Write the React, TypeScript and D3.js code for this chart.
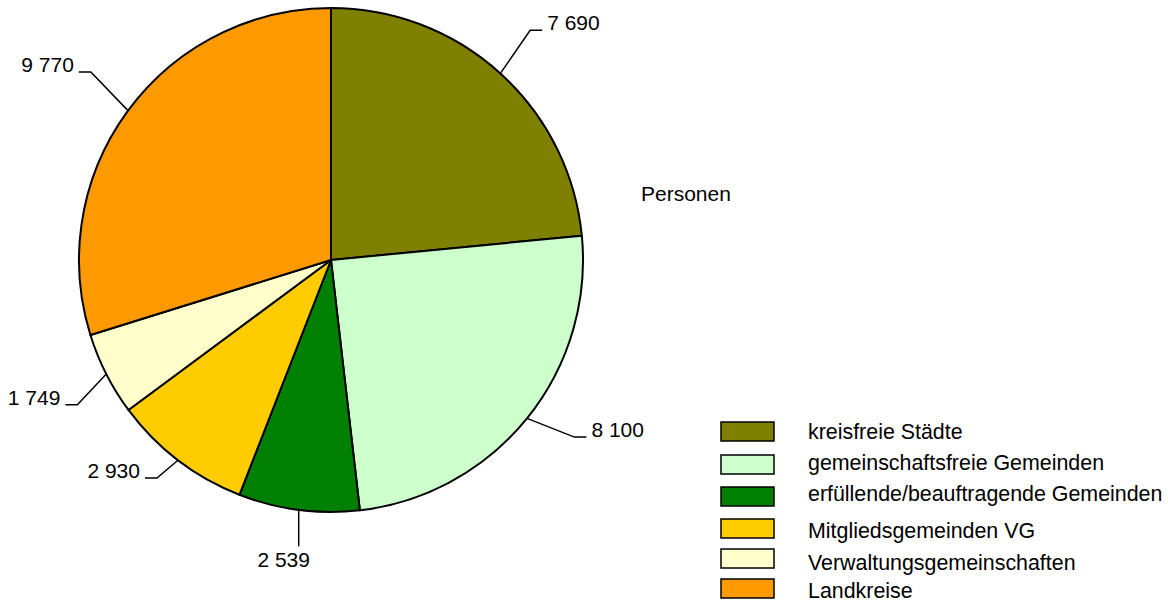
import React, { useEffect, useRef } from 'react'
import * as d3 from 'd3'

const categories = [
  'kreisfreie Städte',
  'gemeinschaftsfreie Gemeinden',
  'erfüllende/beauftragende Gemeinden',
  'Mitgliedsgemeinden VG',
  'Verwaltungsgemeinschaften',
  'Landkreise',
]
const values = [7690, 8100, 2539, 2930, 1749, 9770]
const valueLabels = ['7 690', '8 100', '2 539', '2 930', '1 749', '9 770']
const colors = ['#808000', '#CCFFCC', '#008000', '#FFCC00', '#FFFFCC', '#FF9900']
const unitLabel = 'Personen'

// leader line layout: angle nudge (deg) and elbow radius per label
const labelNudge = [-1.3, -2.9, -1.2, 1.2, -2.8, 1.7]
const labelRadius = [304, 301, 288, 279, 292, 305]

// legend row layout (swatch tops / text baselines)
const legendTops = [422, 455, 487, 519, 549, 579]
const legendBaselines = [439, 470, 501, 538, 570, 598]

const App = () => {
  const svgRef = useRef<SVGSVGElement>(null)

  useEffect(() => {
    const width = 1168
    const height = 603
    const cx = 331
    const cy = 260
    const radius = 252
    const font = 'Liberation Sans, Arial, sans-serif'

    const svg = d3.select(svgRef.current)
    svg.selectAll('*').remove()
    svg.attr('width', width).attr('height', height)

    const data = values.map((v, i) => ({ v, i }))
    const pie = d3.pie<{ v: number; i: number }>().value(d => d.v).sort(null)
    const arcs = pie(data)
    const arc = d3.arc<d3.PieArcDatum<{ v: number; i: number }>>()
      .innerRadius(0)
      .outerRadius(radius)

    const g = svg.append('g').attr('transform', `translate(${cx},${cy})`)

    g.selectAll('path')
      .data(arcs)
      .enter()
      .append('path')
      .attr('d', arc)
      .attr('fill', d => colors[d.data.i])
      .attr('stroke', '#000')
      .attr('stroke-width', 2)
      .attr('stroke-linejoin', 'round')

    // leader lines + labels
    arcs.forEach(d => {
      const i = d.data.i
      const mid = (d.startAngle + d.endAngle) / 2
      const sx = Math.sin(mid) * radius
      const sy = -Math.cos(mid) * radius
      const a = mid + (labelNudge[i] * Math.PI) / 180
      const ex = Math.sin(a) * labelRadius[i]
      const ey = -Math.cos(a) * labelRadius[i]
      const bottom = Math.abs(Math.sin(mid)) < 0.2 && Math.cos(mid) < 0
      if (bottom) {
        g.append('path')
          .attr('d', `M${sx},${sy}L${sx},${ey}`)
          .attr('stroke', '#000').attr('stroke-width', 1.5).attr('fill', 'none')
        g.append('text')
          .attr('x', sx - 15)
          .attr('y', ey + 21)
          .attr('text-anchor', 'middle')
          .attr('font-family', font)
          .attr('font-size', 21)
          .attr('fill', '#000')
          .text(valueLabels[i])
        return
      }
      const right = Math.sin(mid) > 0
      const hx = ex + (right ? 12 : -12)
      g.append('path')
        .attr('d', `M${sx},${sy}L${ex},${ey}L${hx},${ey}`)
        .attr('stroke', '#000').attr('stroke-width', 1.5).attr('fill', 'none')
      g.append('text')
        .attr('x', hx + (right ? 5 : -5))
        .attr('y', ey)
        .attr('text-anchor', right ? 'start' : 'end')
        .attr('font-family', font)
        .attr('font-size', 21)
        .attr('fill', '#000')
        .text(valueLabels[i])
    })

    svg.append('text')
      .attr('x', 641)
      .attr('y', 201)
      .attr('font-family', font)
      .attr('font-size', 21)
      .attr('fill', '#000')
      .text(unitLabel)

    const legend = svg.append('g')
    categories.forEach((c, i) => {
      legend.append('rect')
        .attr('x', 721)
        .attr('y', legendTops[i])
        .attr('width', 53)
        .attr('height', 19)
        .attr('fill', colors[i])
        .attr('stroke', '#000')
        .attr('stroke-width', 1.5)
      legend.append('text')
        .attr('x', 808)
        .attr('y', legendBaselines[i])
        .attr('font-family', font)
        .attr('font-size', 21.4)
        .attr('fill', '#000')
        .text(c)
    })
  }, [])

  return (
    <div style={{ position: 'absolute', left: 0, top: 0 }}>
      <svg ref={svgRef}></svg>
    </div>
  )
}

export default App
